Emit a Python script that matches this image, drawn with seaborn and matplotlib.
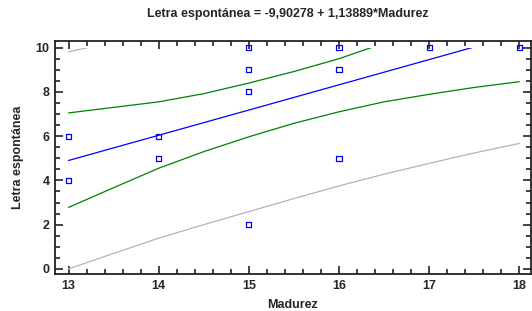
import seaborn as sns
import matplotlib.pyplot as plt
from matplotlib.patches import Rectangle
from matplotlib.ticker import MultipleLocator

# observed data
madurez = [13, 13, 14, 14, 15, 15, 15, 15, 16, 16, 16, 17, 18]
letra = [6, 4, 6, 5, 10, 9, 8, 2, 10, 9, 5, 10, 10]

# curves
x_grid = [13, 13.5, 14, 14.5, 15, 15.5, 16, 16.5, 17, 17.5, 18]
fitted = [4.90, 5.47, 6.04, 6.61, 7.18, 7.75, 8.32, 8.89, 9.46, 10.03, 10.60]
conf_low = [2.78, 3.67, 4.55, 5.30, 5.97, 6.58, 7.10, 7.55, 7.89, 8.20, 8.46]
conf_high = [7.05, 7.30, 7.55, 7.92, 8.40, 8.92, 9.50, 10.20, 11.00, 11.85, 12.72]
pred_low = [0.00, 0.70, 1.39, 2.00, 2.59, 3.18, 3.75, 4.28, 4.77, 5.24, 5.67]
pred_high = [9.81, 10.26, 10.69, 11.20, 11.76, 12.32, 12.87, 13.48, 14.13, 14.80, 15.50]

title = "Letra espontánea = -9,90278 + 1,13889*Madurez"

sns.set_style("ticks")
plt.rcParams['font.family'] = ['Liberation Sans', 'DejaVu Sans']

fig = plt.figure(figsize=(5.32, 3.11), dpi=100)
ax = fig.add_axes([55 / 532, 1 - 274 / 311, 476 / 532, 233 / 311])

clip = Rectangle((12.9, -1), 6, 11.0, transform=ax.transData)

for ys, col in [(pred_low, '#b4b4b4'), (pred_high, '#b4b4b4'),
                (conf_low, '#008000'), (conf_high, '#008000'),
                (fitted, '#0000ff')]:
    sns.lineplot(x=x_grid, y=ys, color=col, linewidth=0.9, ax=ax)
for line in ax.lines:
    line.set_clip_path(clip)

sns.scatterplot(x=madurez, y=letra, marker='s', s=14, facecolor='none',
                edgecolor='#0000ff', linewidth=0.9, ax=ax, zorder=5, clip_on=False)

ax.set_xlim(12.85, 18.13)
ax.set_ylim(-0.23, 10.3)
ax.xaxis.set_major_locator(MultipleLocator(1))
ax.xaxis.set_minor_locator(MultipleLocator(0.2))
ax.yaxis.set_major_locator(MultipleLocator(2))
ax.yaxis.set_minor_locator(MultipleLocator(0.5))
ax.tick_params(which='both', direction='in', top=True, right=True,
               color='#222222', width=1.2)
ax.tick_params(which='major', length=6, labelsize=9, pad=4)
ax.tick_params(which='minor', length=3.5)
for lab in ax.get_xticklabels() + ax.get_yticklabels():
    lab.set_fontweight('bold')
for sp in ax.spines.values():
    sp.set_linewidth(1.3)
    sp.set_color('#222222')

ax.set_xlabel('Madurez', fontsize=9, fontweight='bold', labelpad=5)
ax.set_ylabel('Letra espontánea', fontsize=9, fontweight='bold', labelpad=8)
fig.text(288 / 532, 1 - 14 / 311, title, ha='center', va='center',
         fontsize=9, fontweight='bold')

plt.savefig('out.png', dpi=100)
plt.close()
